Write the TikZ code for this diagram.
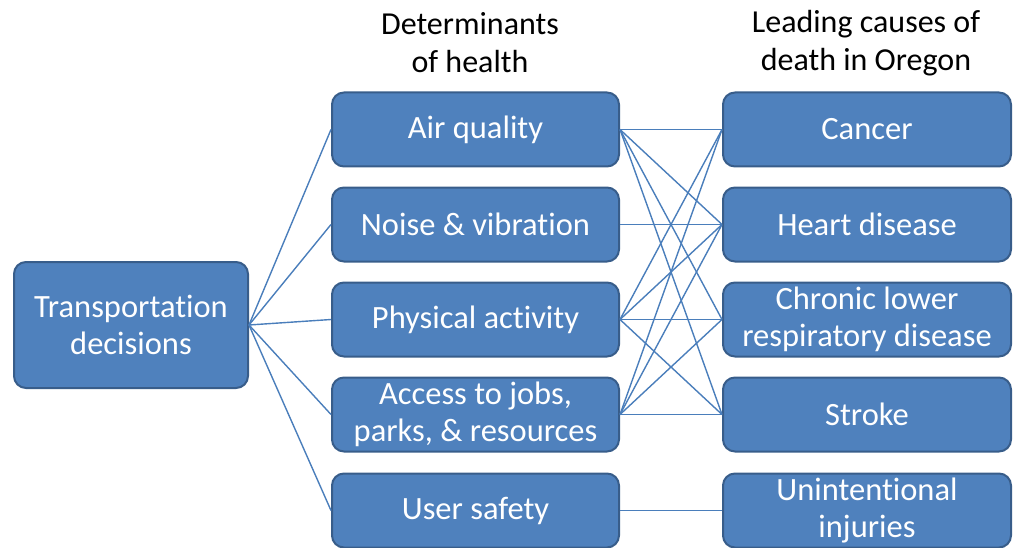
\documentclass[tikz,border=0pt]{standalone}
\usepackage{fontspec}
\setmainfont[Ligatures={NoCommon}]{Carlito}
\definecolor{boxfill}{HTML}{4F81BD}
\definecolor{boxline}{HTML}{385D8A}
\definecolor{conn}{HTML}{4A7EBB}
\begin{document}
\begin{tikzpicture}[x=1pt,y=-1pt,
  box/.style={draw=boxline, line width=2pt, fill=boxfill, rounded corners=12pt,
    text=white, align=center, inner sep=0pt,
    font=\fontsize{32.5}{37.5}\selectfont},
  midbox/.style={box, minimum width=287pt, minimum height=74pt},
  rbox/.style={box, minimum width=288pt, minimum height=74pt},
  head/.style={align=center, text=black, font=\fontsize{32}{38}\selectfont},
  link/.style={draw=conn, line width=1.4pt}]
\useasboundingbox (0,0) rectangle (1016,548);
\node[box, minimum width=234pt, minimum height=126pt] (td) at (131,325) {Transportation\\decisions};
\node[head] (h1) at (470,43) {Determinants\\of health};
\node[head] (h2) at (866,43) {Leading causes of\\death in Oregon};
\node[midbox] (aq) at (475.5,129.5) {Air quality};
\node[midbox] (nv) at (475.5,224.5) {Noise \& vibration};
\node[midbox] (pa) at (475.5,319.5) {Physical activity};
\node[midbox] (ac) at (475.5,414.5) {Access to jobs,\\parks, \& resources};
\node[midbox] (us) at (475.5,510.5) {User safety};
\node[rbox] (ca) at (867,129.5) {Cancer};
\node[rbox] (hd) at (867,224.5) {Heart disease};
\node[rbox] (cl) at (867,319.5) {Chronic lower\\respiratory disease};
\node[rbox] (st) at (867,414.5) {Stroke};
\node[rbox] (ui) at (867,510.5) {Unintentional\\injuries};
\foreach \m in {aq,nv,pa,ac,us} \draw[link] (td.east) -- (\m.west);
\foreach \r in {ca,hd,cl,st} \draw[link] (aq.east) -- (\r.west);
\draw[link] (nv.east) -- (hd.west);
\foreach \r in {ca,hd,cl,st} \draw[link] (pa.east) -- (\r.west);
\foreach \r in {ca,hd,cl,st} \draw[link] (ac.east) -- (\r.west);
\draw[link] (us.east) -- (ui.west);
\end{tikzpicture}
\end{document}
